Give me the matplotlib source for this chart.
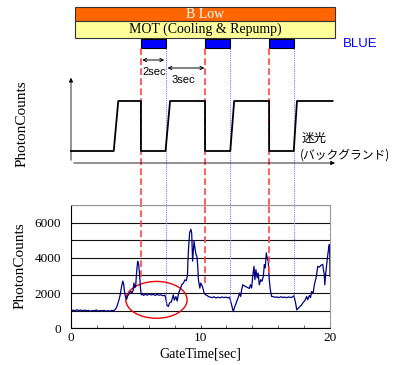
import matplotlib.pyplot as plt
import numpy as np
from matplotlib.patches import Rectangle, Ellipse
from matplotlib.ticker import MultipleLocator

# Dados
# pulsos BLUE (segundos)
blue_on = [5.4, 10.35, 15.3]
blue_off = [7.3, 12.3, 17.2]

# sinal esquematico (0 = fundo, 1 = MOT)
sig_t = [0, 3.3, 3.65, 5.4, 5.4, 7.3, 7.65, 10.35, 10.35, 12.3, 12.6, 15.3, 15.3, 17.2, 17.45, 20.2]
sig_level = [0, 0, 1, 1, 0, 0, 1, 1, 0, 0, 1, 1, 0, 0, 1, 1]

# contagem de fotons medida
gate_time = [0.0, 0.15, 0.3, 0.45, 0.6, 0.75, 0.9, 1.05, 1.2, 1.35, 1.5, 1.65, 1.8, 1.95,
             2.1, 2.25, 2.4, 2.55, 2.7, 2.85, 3.0, 3.15, 3.3,
             3.45, 3.55, 3.7, 3.8, 3.9, 4.0, 4.07, 4.12, 4.2, 4.3, 4.38, 4.45, 4.55, 4.62,
             4.7, 4.8, 4.86, 4.93, 5.0, 5.07, 5.15, 5.22, 5.3, 5.36, 5.43, 5.5,
             5.6, 5.75, 5.9, 6.05, 6.2, 6.35, 6.5, 6.65, 6.8, 6.95, 7.1, 7.25,
             7.35, 7.4, 7.52, 7.62, 7.75, 7.9, 7.98, 8.1, 8.2, 8.31, 8.42, 8.55, 8.68,
             8.8, 8.9, 8.99, 9.03, 9.08, 9.16, 9.26, 9.32, 9.39, 9.5, 9.57, 9.65, 9.72,
             9.78, 9.84, 9.95, 10.02, 10.15, 10.28, 10.4, 10.48,
             10.6, 10.75, 10.9, 11.05, 11.2, 11.35, 11.5, 11.65, 11.8, 11.95, 12.1, 12.25,
             12.4, 12.53, 12.65, 12.78, 12.94, 13.02, 13.1, 13.18, 13.26, 13.45, 13.6,
             13.78, 13.85, 13.95, 14.03, 14.13, 14.2, 14.28, 14.38, 14.45, 14.54, 14.65,
             14.75, 14.85, 14.93, 15.0, 15.08, 15.15, 15.23, 15.31, 15.39, 15.49,
             15.6, 15.75, 15.9, 16.05, 16.2, 16.35, 16.5, 16.65, 16.8, 16.95, 17.1, 17.22,
             17.37, 17.43, 17.55, 17.68, 17.81, 17.94, 18.05, 18.2, 18.28, 18.41, 18.5,
             18.58, 18.7, 18.79, 18.89, 18.97, 19.05, 19.18, 19.3, 19.44, 19.5, 19.55,
             19.6, 19.66, 19.8, 19.9, 19.95, 19.98, 20.0]
photon_counts = [980, 1030, 1000, 1050, 1010, 1040, 990, 1030, 1000, 1020, 970, 1010, 990, 1040,
                 980, 1010, 990, 1020, 970, 1000, 980, 1010, 1000,
                 1100, 1250, 1600, 1900, 2350, 2680, 2500, 2150, 1800, 1650, 1850, 1900, 2050, 2100,
                 2000, 2150, 2570, 2300, 2450, 3250, 3800, 3650, 3000, 2300, 1900, 1950,
                 1870, 1930, 1880, 1950, 1890, 1930, 1870, 1920, 1880, 1900, 1850, 1880,
                 1600, 1330, 1240, 1450, 1500, 1900, 1600, 1800, 1550, 2000, 2190, 2470, 2570,
                 2750, 2700, 2990, 3810, 4570, 5430, 5620, 5400, 3810, 4950, 4570, 4190, 4100,
                 3600, 2760, 2280, 2570, 2380, 2000, 1900, 1880,
                 1810, 1770, 1740, 1790, 1720, 1770, 1730, 1780, 1740, 1770, 1730, 1760,
                 1330, 950, 1240, 1480, 1810, 2000, 1810, 2190, 2470, 2380, 2330,
                 2260, 2470, 2290, 2950, 3520, 2760, 3330, 2860, 3140, 2470, 2760,
                 2670, 2950, 3620, 3430, 4280, 4000, 3810, 2760, 2190, 1810,
                 1800, 1760, 1780, 1740, 1790, 1750, 1770, 1740, 1780, 1750, 1770, 1850,
                 1330, 1050, 1140, 1240, 1330, 1480, 1560, 1810, 1620, 1860, 1750,
                 2090, 2000, 2470, 2760, 3050, 3520, 3470, 3580, 3620, 3290, 3100,
                 2470, 3050, 4000, 4570, 4760, 4200, 2950]

# onde as linhas verticais terminam no grafico de baixo
red_end = [2900, 2600, 3150]
blue_end = [1250, 1450, 1750]

serif = 'Liberation Serif'
sans = 'Liberation Sans'
cjk = ['Noto Sans CJK JP', 'DejaVu Sans']

fig = plt.figure(figsize=(3.94, 3.65), dpi=100)

# ---- parte de cima: diagrama de tempo (y em pixels contados de baixo) ----
axt = fig.add_axes([71/394, 160/365, 259/394, 205/365])
axt.set_xlim(0, 20)
axt.set_ylim(0, 205)
axt.axis('off')

axt.add_patch(Rectangle((0.31, 184.5), 20.08, 13.5, facecolor='#FF6600', edgecolor='#333333', lw=0.8, clip_on=False))
axt.text(10.35, 191, 'B Low', ha='center', va='center', color='white', fontsize=10, family=serif)
axt.add_patch(Rectangle((0.31, 167), 20.08, 17.5, facecolor='#FFFF99', edgecolor='#333333', lw=0.8, clip_on=False))
axt.text(10.35, 175.5, 'MOT (Cooling & Repump)', ha='center', va='center', color='black', fontsize=10, family=serif)

for on, off in zip(blue_on, blue_off):
    axt.add_patch(Rectangle((on, 157), off - on, 9, facecolor='#0000FF', edgecolor='black', lw=0.8))
axt.text(21.0, 161, 'BLUE', ha='left', va='center', color='#0000FF', fontsize=9.5, family=sans, clip_on=False)

axt.vlines(blue_on, 0, 157, colors='#FF4444', linestyles=(0, (4, 2)), lw=1.2)
axt.vlines(blue_off, 0, 157, colors='#7777FF', linestyles=(0, (1, 1)), lw=0.8)

# eixos do esquema
axt.annotate('', xy=(0, 130), xytext=(0, 42),
             arrowprops=dict(arrowstyle='-|>', color='black', lw=0.6, mutation_scale=6))
axt.annotate('', xy=(20.6, 42), xytext=(0, 42),
             arrowprops=dict(arrowstyle='-|>', color='black', lw=0.6, mutation_scale=6),
             annotation_clip=False)

low, high = 54, 104
sig_y = [low + s * (high - low) for s in sig_level]
axt.plot(sig_t, sig_y, color='black', lw=1.3, clip_on=False)

# setas de tempo
axt.annotate('', xy=(5.5, 145), xytext=(7.2, 145),
             arrowprops=dict(arrowstyle='<->', color='black', lw=0.7, mutation_scale=6,
                             shrinkA=0, shrinkB=0))
axt.text(6.4, 133, '2sec', ha='center', va='center', fontsize=8, family=sans)
axt.annotate('', xy=(7.45, 137), xytext=(10.3, 137),
             arrowprops=dict(arrowstyle='<->', color='black', lw=0.7, mutation_scale=6,
                             shrinkA=0, shrinkB=0))
axt.text(8.65, 125, '3sec', ha='center', va='center', fontsize=8, family=sans)

axt.text(17.8, 67, '迷光', ha='left', va='center', fontsize=9, family=cjk, clip_on=False)
axt.text(17.7, 50, '(バックグランド)', ha='left', va='center', fontsize=8.5, family=cjk, clip_on=False)

fig.text(22/394, (365-124)/365, 'PhotonCounts', rotation=90, ha='center', va='center',
         fontsize=11, family=serif)

# ---- parte de baixo: dados medidos ----
ax = fig.add_axes([71/394, 36.7/365, 259/394, 123.3/365])
ax.set_xlim(0, 20)
ax.set_ylim(0, 7000)
ax.yaxis.set_major_locator(MultipleLocator(2000))
ax.yaxis.set_minor_locator(MultipleLocator(1000))
ax.xaxis.set_major_locator(MultipleLocator(10))
ax.xaxis.set_minor_locator(MultipleLocator(2))
ax.grid(axis='y', which='both', color='#111111', lw=0.8)
ax.set_axisbelow(True)
ax.tick_params(axis='y', which='both', length=0, pad=7, labelsize=9.5)
ax.tick_params(axis='x', which='both', direction='in', length=2.5, pad=3, labelsize=9.5, color='#555555')
for lab in ax.get_xticklabels() + ax.get_yticklabels():
    lab.set_family(serif)
ax.spines['top'].set_color('#999999')
ax.spines['right'].set_color('#999999')

ax.plot(gate_time, photon_counts, color='#000080', lw=0.9)

for x, y in zip(blue_on, red_end):
    ax.vlines(x, y, 7000, colors='#FF4444', linestyles=(0, (4, 2)), lw=1.2)
for x, y in zip(blue_off, blue_end):
    ax.vlines(x, y, 7000, colors='#7777FF', linestyles=(0, (1, 1)), lw=0.8)

ax.add_patch(Ellipse((6.6, 1615), 4.73, 2090, facecolor='none', edgecolor='#EE0000', lw=1.0))

ax.set_xlabel('GateTime[sec]', fontsize=10, family=serif, labelpad=2)
fig.text(20/394, (365-266)/365, 'PhotonCounts', rotation=90, ha='center', va='center',
         fontsize=11, family=serif)

plt.savefig('out.png', dpi=100)
plt.close()
